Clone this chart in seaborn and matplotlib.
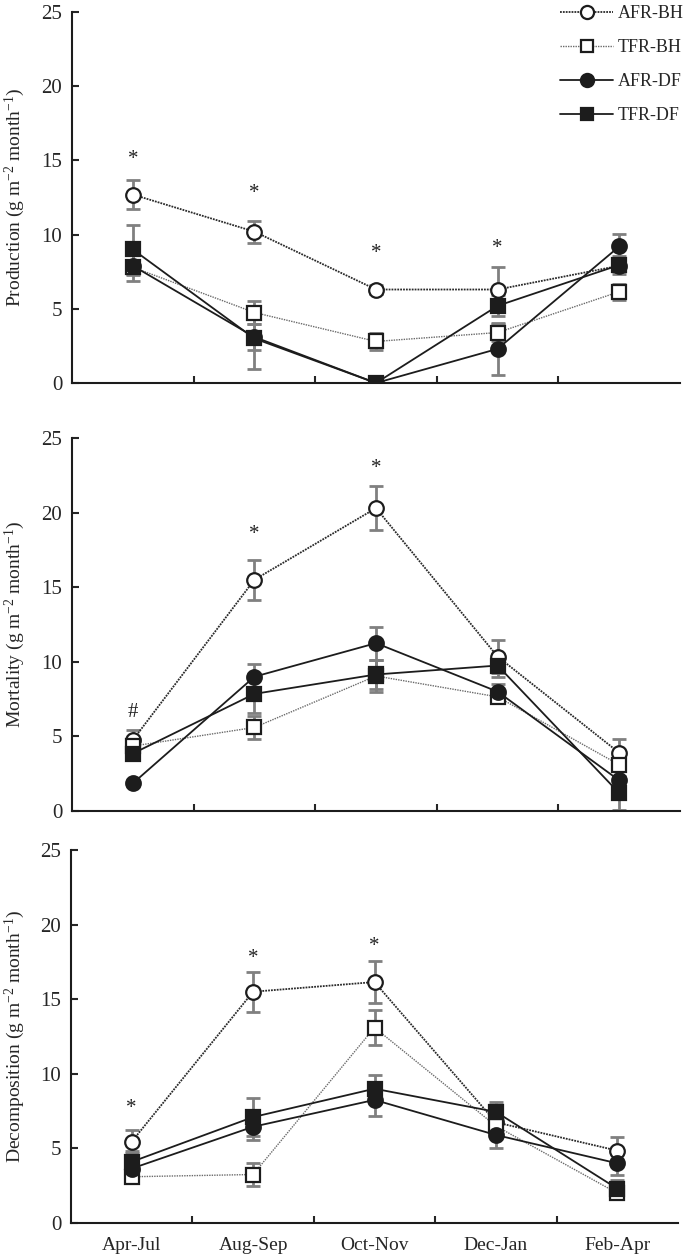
import numpy as np
import pandas as pd
import matplotlib
matplotlib.use("Agg")
import matplotlib.pyplot as plt
import seaborn as sns
from matplotlib.lines import Line2D

CATS = ["Apr-Jul", "Aug-Sep", "Oct-Nov", "Dec-Jan", "Feb-Apr"]
SERIES = ["AFR-BH", "TFR-BH", "AFR-DF", "TFR-DF"]

# Production (g m-2 month-1)
prod_afr_bh = [12.7, 10.2, 6.3, 6.3, 7.9]
prod_tfr_bh = [7.8, 4.75, 2.8, 3.4, 6.15]
prod_afr_df = [7.9, 3.1, 0.0, 2.3, 9.2]
prod_tfr_df = [9.0, 3.0, 0.0, 5.2, 7.95]
prod_afr_bh_err = [1.0, 0.75, 0.3, 1.5, 0.3]
prod_tfr_bh_err = [0.5, 0.8, 0.6, 0.6, 0.55]
prod_afr_df_err = [1.05, 0.9, 0.0, 1.75, 0.85]
prod_tfr_df_err = [1.65, 2.05, 0.0, 0.7, 0.6]

# Mortality
mort_afr_bh = [4.75, 15.5, 20.3, 10.35, 3.9]
mort_tfr_bh = [4.35, 5.6, 9.05, 7.65, 3.1]
mort_afr_df = [1.85, 9.0, 11.25, 8.0, 2.05]
mort_tfr_df = [3.85, 7.85, 9.15, 9.75, 1.2]
mort_afr_bh_err = [0.7, 1.35, 1.45, 1.1, 0.9]
mort_tfr_bh_err = [0.4, 0.8, 1.1, 0.4, 0.4]
mort_afr_df_err = [0.2, 0.85, 1.1, 0.5, 0.3]
mort_tfr_df_err = [0.4, 1.3, 1.0, 0.8, 1.1]

# Decomposition
deco_afr_bh = [5.45, 15.5, 16.15, 6.75, 4.85]
deco_tfr_bh = [3.1, 3.25, 13.1, 6.5, 2.0]
deco_afr_df = [3.65, 6.45, 8.25, 5.9, 4.0]
deco_tfr_df = [4.1, 7.1, 9.0, 7.45, 2.3]
deco_afr_bh_err = [0.75, 1.35, 1.4, 0.5, 0.9]
deco_tfr_bh_err = [0.3, 0.8, 1.15, 0.4, 0.3]
deco_afr_df_err = [0.5, 0.9, 1.05, 0.85, 0.8]
deco_tfr_df_err = [0.7, 1.25, 0.95, 0.65, 0.6]

# marcas de significancia (categoria, y, simbolo)
prod_marks = [("Apr-Jul", 15.05, "*"), ("Aug-Sep", 12.75, "*"),
              ("Oct-Nov", 8.75, "*"), ("Dec-Jan", 9.05, "*")]
mort_marks = [("Apr-Jul", 6.6, "#"), ("Aug-Sep", 18.55, "*"), ("Oct-Nov", 22.95, "*")]
deco_marks = [("Apr-Jul", 7.65, "*"), ("Aug-Sep", 17.75, "*"), ("Oct-Nov", 18.55, "*")]

YTICKS = [0, 5, 10, 15, 20, 25]

ESTILOS = {
    "AFR-BH": dict(color="#2a2a2a", ls=(0, (1, 0.6)), lw=1.3, marker="o", mfc="white", ms=10.5),
    "TFR-BH": dict(color="#6a6a6a", ls=(0, (1, 0.8)), lw=1.0, marker="s", mfc="white", ms=9.5),
    "AFR-DF": dict(color="#1c1c1c", ls="-", lw=1.3, marker="o", mfc="#1c1c1c", ms=10.5),
    "TFR-DF": dict(color="#1c1c1c", ls="-", lw=1.3, marker="s", mfc="#1c1c1c", ms=9.5),
}

sns.set_style("ticks")
plt.rcParams["font.family"] = ["Liberation Serif", "DejaVu Serif"]
plt.rcParams["mathtext.fontset"] = "custom"
plt.rcParams["mathtext.rm"] = "Liberation Serif"
plt.rcParams["mathtext.it"] = "Liberation Serif"

W, H = 685, 1259
fig = plt.figure(figsize=(W / 100, H / 100), dpi=100)


def caja(x0, x1, ytop, ybot):
    return [x0 / W, 1 - ybot / H, (x1 - x0) / W, (ybot - ytop) / H]


paneles = [
    ("Production", caja(72, 680, 12, 383),
     [prod_afr_bh, prod_tfr_bh, prod_afr_df, prod_tfr_df],
     [prod_afr_bh_err, prod_tfr_bh_err, prod_afr_df_err, prod_tfr_df_err], prod_marks),
    ("Mortality", caja(72, 680, 438, 811),
     [mort_afr_bh, mort_tfr_bh, mort_afr_df, mort_tfr_df],
     [mort_afr_bh_err, mort_tfr_bh_err, mort_afr_df_err, mort_tfr_df_err], mort_marks),
    ("Decomposition", caja(71, 678, 850, 1223),
     [deco_afr_bh, deco_tfr_bh, deco_afr_df, deco_tfr_df],
     [deco_afr_bh_err, deco_tfr_bh_err, deco_afr_df_err, deco_tfr_df_err], deco_marks),
]

for k, (nombre, rect, valores, errores, marcas) in enumerate(paneles):
    ax = fig.add_axes(rect)
    xpos = np.arange(len(CATS))

    for serie, vals, errs in zip(SERIES, valores, errores):
        ax.errorbar(xpos, vals, yerr=errs, fmt="none", ecolor="#808080",
                    elinewidth=2.0, capsize=5, capthick=2.0, zorder=1)

    for serie, vals in zip(SERIES, valores):
        st = ESTILOS[serie]
        df = pd.DataFrame({"x": xpos, "y": vals})
        sns.lineplot(data=df, x="x", y="y", ax=ax, color=st["color"],
                     linestyle=st["ls"], linewidth=st["lw"], marker=st["marker"],
                     markersize=st["ms"], markerfacecolor=st["mfc"],
                     markeredgecolor="#1c1c1c", markeredgewidth=1.6, zorder=3)

    for cat, yv, sym in marcas:
        ax.text(CATS.index(cat), yv, sym, ha="center", va="center",
                fontsize=15, color="#222222")

    ax.set_xlim(-0.5, len(CATS) - 0.5)
    ax.set_ylim(0, 25)
    ax.set_yticks(YTICKS)
    ax.set_xticks(xpos)
    ax.set_xticks(xpos[:-1] + 0.5, minor=True)
    if k == 2:
        ax.set_xticklabels(CATS)
    else:
        ax.set_xticklabels([])
    ax.tick_params(axis="x", which="major", length=0, pad=10, labelsize=14)
    ax.tick_params(axis="x", which="minor", direction="in", length=5, width=1.5)
    ax.tick_params(axis="y", direction="in", length=5, width=1.5, pad=7, labelsize=15)
    for lado in ["top", "right"]:
        ax.spines[lado].set_visible(False)
    for lado in ["left", "bottom"]:
        ax.spines[lado].set_linewidth(1.5)
        ax.spines[lado].set_color("#1c1c1c")
    ax.set_xlabel("")
    ax.set_ylabel(nombre + r" (g m$^{-2}$ month$^{-1}$)", fontsize=14)
    ax.yaxis.set_label_coords(-(rect[0] * W - 27) / (rect[2] * W), 0.5)

handles = []
for serie in SERIES:
    st = ESTILOS[serie]
    handles.append(Line2D([], [], color=st["color"], linestyle=st["ls"], linewidth=st["lw"],
                          marker=st["marker"], markersize=st["ms"] * 0.9,
                          markerfacecolor=st["mfc"], markeredgecolor="#1c1c1c",
                          markeredgewidth=1.6))
fig.legend(handles, SERIES, loc="upper right", bbox_to_anchor=(684 / W, 1 - 5 / H),
           frameon=False, fontsize=13, handlelength=2.9, labelspacing=0.95,
           handletextpad=0.3, borderpad=0.0, borderaxespad=0.0)

fig.savefig("out.png", dpi=100)
